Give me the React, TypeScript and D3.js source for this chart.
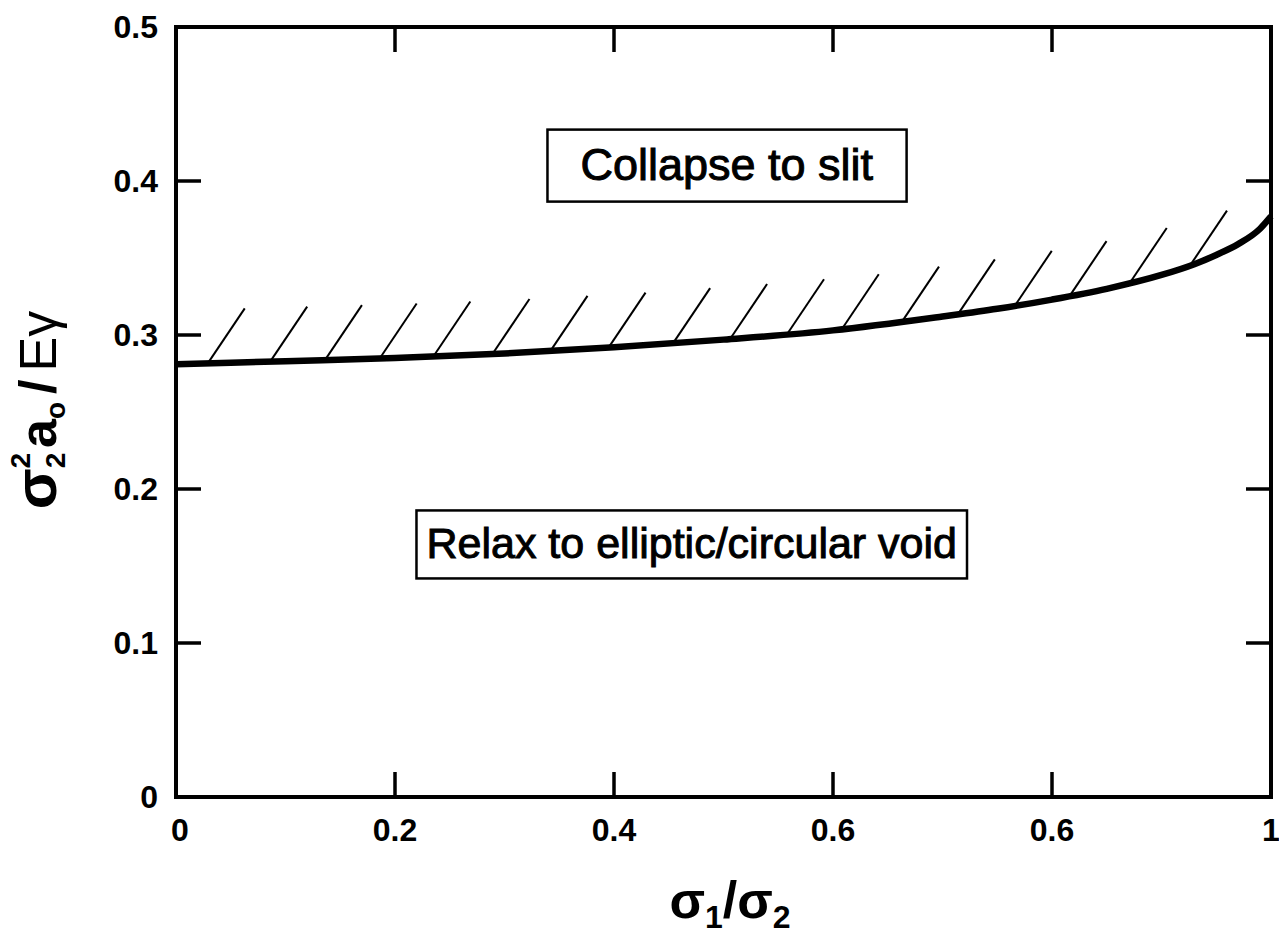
import React, { useEffect, useRef } from "react";
import * as d3 from "d3";

// Boundary curve: sigma1/sigma2 vs sigma2^2 a0 / E gamma
const curveX = [0, 0.1, 0.2, 0.3, 0.4, 0.5, 0.6, 0.7, 0.75, 0.8, 0.85, 0.9, 0.93, 0.95, 0.97, 0.99, 1.0];
const curveY = [0.281, 0.283, 0.285, 0.288, 0.292, 0.297, 0.303, 0.312, 0.317, 0.323, 0.330, 0.339, 0.346, 0.352, 0.359, 0.369, 0.377];

// Hatch marks positions along the curve (x in data units)
const hatchX = [0.029, 0.086, 0.136, 0.186, 0.235, 0.289, 0.342, 0.395, 0.454, 0.506, 0.558, 0.608, 0.663, 0.714, 0.766, 0.816, 0.871, 0.926];

// Tick values and labels (the original repeats "0.6")
const xTickValues = [0, 0.2, 0.4, 0.6, 0.8, 1];
const xTickLabels = ["0", "0.2", "0.4", "0.6", "0.6", "1"];
const yTickValues = [0, 0.1, 0.2, 0.3, 0.4, 0.5];
const yTickLabels = ["0", "0.1", "0.2", "0.3", "0.4", "0.5"];

// Region labels
const regionLabels = ["Collapse to slit", "Relax to elliptic/circular void"];
const regionX = [0.503, 0.471];
const regionY = [0.41, 0.164];

const W = 1279;
const H = 938;
const M = { left: 176, right: 8, top: 27, bottom: 141 };

export default function App() {
  const ref = useRef<SVGSVGElement | null>(null);

  useEffect(() => {
    document.body.style.margin = "0";
    const svg = d3.select(ref.current);
    svg.selectAll("*").remove();

    const x = d3.scaleLinear().domain([0, 1]).range([M.left, W - M.right]);
    const y = d3.scaleLinear().domain([0, 0.5]).range([H - M.bottom, M.top]);
    const font = "'Liberation Sans', Arial, Helvetica, sans-serif";

    const pts: [number, number][] = curveX.map((v, i) => [v, curveY[i]]);
    const interp = (xv: number) => {
      for (let i = 0; i < curveX.length - 1; i++) {
        if (xv >= curveX[i] && xv <= curveX[i + 1]) {
          const t = (xv - curveX[i]) / (curveX[i + 1] - curveX[i]);
          return curveY[i] + t * (curveY[i + 1] - curveY[i]);
        }
      }
      return curveY[curveY.length - 1];
    };

    // hatches
    const g = svg.append("g");
    hatchX.forEach((hx) => {
      const px = x(hx);
      const py = y(interp(hx));
      g.append("line")
        .attr("x1", px)
        .attr("y1", py)
        .attr("x2", px + 37)
        .attr("y2", py - 55)
        .attr("stroke", "#000")
        .attr("stroke-width", 2);
    });

    // curve
    const line = d3
      .line<[number, number]>()
      .x((d) => x(d[0]))
      .y((d) => y(d[1]))
      .curve(d3.curveMonotoneX);
    svg
      .append("path")
      .attr("d", line(pts) as string)
      .attr("fill", "none")
      .attr("stroke", "#000")
      .attr("stroke-width", 6.5);

    // frame
    const x0 = x(0), x1 = x(1), y0 = y(0), y1 = y(0.5);
    svg
      .append("rect")
      .attr("x", x0)
      .attr("y", y1)
      .attr("width", x1 - x0)
      .attr("height", y0 - y1)
      .attr("fill", "none")
      .attr("stroke", "#000")
      .attr("stroke-width", 4);

    const tl = 25;
    // x ticks (bottom & top, inward)
    xTickValues.forEach((v, i) => {
      if (i > 0 && i < xTickValues.length - 1) {
        svg.append("line").attr("x1", x(v)).attr("x2", x(v)).attr("y1", y0).attr("y2", y0 - tl).attr("stroke", "#000").attr("stroke-width", 3.5);
        svg.append("line").attr("x1", x(v)).attr("x2", x(v)).attr("y1", y1).attr("y2", y1 + tl).attr("stroke", "#000").attr("stroke-width", 3.5);
      }
      svg
        .append("text")
        .attr("x", x(v) + (i === 0 ? 4 : 0))
        .attr("y", y0 + 44)
        .attr("text-anchor", "middle")
        .attr("font-family", font)
        .attr("font-weight", "bold")
        .attr("font-size", 32)
        .text(xTickLabels[i]);
    });
    // y ticks (left & right, inward)
    yTickValues.forEach((v, i) => {
      if (i > 0 && i < yTickValues.length - 1) {
        svg.append("line").attr("x1", x0).attr("x2", x0 + tl).attr("y1", y(v)).attr("y2", y(v)).attr("stroke", "#000").attr("stroke-width", 3.5);
        svg.append("line").attr("x1", x1).attr("x2", x1 - tl).attr("y1", y(v)).attr("y2", y(v)).attr("stroke", "#000").attr("stroke-width", 3.5);
      }
      svg
        .append("text")
        .attr("x", x0 - 18)
        .attr("y", y(v) + 11)
        .attr("text-anchor", "end")
        .attr("font-family", font)
        .attr("font-weight", "bold")
        .attr("font-size", 32)
        .text(yTickLabels[i]);
    });

    // region labels with boxes
    const fs = [45, 43];
    const padXs = [33, 10];
    const hgts = [72, 68];
    regionLabels.forEach((lab, i) => {
      const cx = x(regionX[i]);
      const cy = y(regionY[i]);
      const t = svg
        .append("text")
        .attr("x", cx)
        .attr("y", cy + 14)
        .attr("text-anchor", "middle")
        .attr("font-family", font)
        .attr("font-size", fs[i])
        .attr("stroke", "#000")
        .attr("stroke-width", 1)
        .text(lab);
      const bb = (t.node() as SVGTextElement).getBBox();
      svg
        .insert("rect", "text")
        .attr("x", bb.x - padXs[i])
        .attr("y", cy - hgts[i] / 2)
        .attr("width", bb.width + 2 * padXs[i])
        .attr("height", hgts[i])
        .attr("fill", "#fff")
        .attr("stroke", "#000")
        .attr("stroke-width", 2.5);
    });

    // x axis label
    const xl = svg
      .append("text")
      .attr("x", 730)
      .attr("y", 918)
      .attr("text-anchor", "middle")
      .attr("font-family", font)
      .attr("font-weight", "bold")
      .attr("font-size", 52);
    xl.append("tspan").text("σ");
    xl.append("tspan").attr("font-size", 32).attr("dy", 10).text("1");
    xl.append("tspan").attr("dy", -10).text("/σ");
    xl.append("tspan").attr("font-size", 32).attr("dy", 10).text("2");

    // y axis label (rotated)
    const yl = svg
      .append("text")
      .attr("transform", `translate(56, 410) rotate(-90)`)
      .attr("text-anchor", "middle")
      .attr("font-family", font)
      .attr("font-weight", "bold")
      .attr("font-size", 52);
    yl.append("tspan").attr("font-size", 60).text("σ");
    yl.append("tspan").attr("font-size", 28).attr("dy", 9).text("2");
    yl.append("tspan").attr("font-size", 28).attr("dx", -16).attr("dy", -35).text("2");
    yl.append("tspan").attr("dy", 26).attr("dx", 5).text("a");
    yl.append("tspan").attr("font-size", 28).attr("dy", 9).text("o");
    yl.append("tspan").attr("dy", -9).attr("dx", 8).text("/");
    yl.append("tspan").attr("dx", 8).attr("font-weight", "normal").text("Eγ");
  }, []);

  return <svg ref={ref} width={W} height={H} style={{ display: "block", background: "#fff" }} />;
}
